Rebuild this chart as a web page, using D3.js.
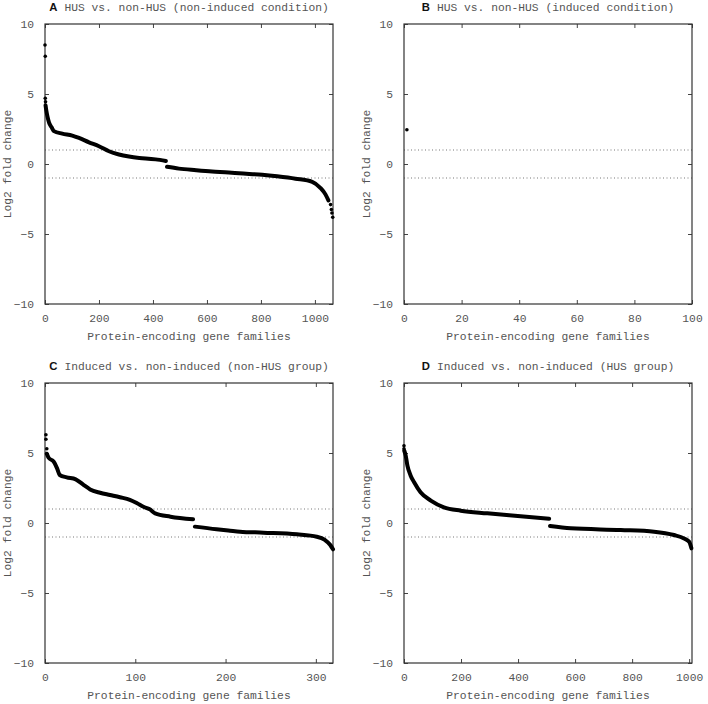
<html>
<head>
<meta charset="utf-8">
<script src="https://d3js.org/d3.v7.min.js"></script>
<style>
body { margin: 0; background: #fff; }
text { font-family: "Liberation Mono", "DejaVu Sans Mono", monospace; fill: #555; }
</style>
</head>
<body>
<svg id="chart" width="708" height="704"></svg>
<script>
// ---- data (index in sorted list, log2 fold change) ----
// panel A: HUS vs non-HUS, non-induced
var aPosIdx = [2, 5, 9, 15, 25, 33, 64, 101, 126, 163, 200, 237, 274, 311, 342, 373, 410, 448]
var aPosVal = [4.2, 3.8, 3.4, 2.95, 2.6, 2.35, 2.17, 2.03, 1.86, 1.55, 1.27, 0.91, 0.68, 0.53, 0.44, 0.4, 0.33, 0.22]
var aNegIdx = [452, 496, 560, 619, 681, 719, 805, 860, 928, 990, 1020, 1039, 1050]
var aNegVal = [-0.2, -0.33, -0.44, -0.53, -0.6, -0.66, -0.77, -0.88, -1.05, -1.27, -1.7, -2.17, -2.6]
var aDotIdx = [0, 1, 1, 2, 1058, 1061, 1063, 1066]
var aDotVal = [8.5, 7.7, 4.7, 4.45, -2.9, -3.25, -3.5, -3.8]

// panel B: HUS vs non-HUS, induced (single family)
var bDotIdx = [1]
var bDotVal = [2.45]

// panel C: induced vs non-induced, non-HUS group
var cPosIdx = [2, 4, 9.6, 12, 13.4, 16.3, 24, 34, 43, 50, 61, 72, 83, 94, 102, 109, 116, 122, 139, 164]
var cPosVal = [4.95, 4.66, 4.38, 4.1, 3.9, 3.43, 3.26, 3.12, 2.71, 2.4, 2.16, 2.0, 1.84, 1.66, 1.41, 1.16, 0.98, 0.69, 0.45, 0.26]
var cNegIdx = [166, 190, 205, 216, 242, 279, 301, 310, 316, 319]
var cNegVal = [-0.26, -0.45, -0.55, -0.62, -0.69, -0.81, -0.98, -1.21, -1.57, -1.88]
var cDotIdx = [1, 1, 2]
var cDotVal = [6.3, 5.98, 5.3]

// panel D: induced vs non-induced, HUS group
var dPosIdx = [1, 6, 12, 23, 35, 58, 94, 140, 199, 292, 409, 509]
var dPosVal = [5.16, 4.81, 4.1, 3.4, 2.93, 2.2, 1.6, 1.12, 0.88, 0.69, 0.48, 0.3]
var dNegIdx = [512, 585, 760, 877, 947, 982, 1000, 1008]
var dNegVal = [-0.21, -0.38, -0.5, -0.62, -0.86, -1.1, -1.34, -1.81]
var dDotIdx = [0, 0]
var dDotVal = [5.52, 5.3]

var panelLetters = ["A", "B", "C", "D"]
var panelTitles = ["HUS vs. non-HUS (non-induced condition)", "HUS vs. non-HUS (induced condition)",
                   "Induced vs. non-induced (non-HUS group)", "Induced vs. non-induced (HUS group)"]
var xMax = [1067, 100, 319, 1010]
var xTicks = [[0, 200, 400, 600, 800, 1000], [0, 20, 40, 60, 80, 100], [0, 100, 200, 300], [0, 200, 400, 600, 800, 1000]]
var yTicks = [-10, -5, 0, 5, 10]
var cutoffs = [1, -1]
var xLabel = "Protein-encoding gene families"
var yLabel = "Log2 fold change"

function zip(ix, v) { return ix.map(function(d, i) { return {x: d, y: v[i]} }) }

var panels = [
  {left: 45, top: 24, lines: [zip(aPosIdx, aPosVal), zip(aNegIdx, aNegVal)], dots: zip(aDotIdx, aDotVal)},
  {left: 404, top: 24, lines: [], dots: zip(bDotIdx, bDotVal)},
  {left: 45, top: 383, lines: [zip(cPosIdx, cPosVal), zip(cNegIdx, cNegVal)], dots: zip(cDotIdx, cDotVal)},
  {left: 404, top: 383, lines: [zip(dPosIdx, dPosVal), zip(dNegIdx, dNegVal)], dots: zip(dDotIdx, dDotVal)}
]
var W = 288, H = 280

var svg = d3.select("#chart")

panels.forEach(function(p, k) {
  var g = svg.append("g").attr("transform", "translate(" + p.left + "," + p.top + ")")
  var x = d3.scaleLinear().domain([0, xMax[k]]).range([0, W])
  var y = d3.scaleLinear().domain([-10, 10]).range([H, 0])

  // cutoff lines
  g.selectAll(".cut").data(cutoffs).enter().append("line")
    .attr("x1", 0).attr("x2", W)
    .attr("y1", function(d) { return y(d) }).attr("y2", function(d) { return y(d) })
    .style("stroke", "#777").style("stroke-width", 1).style("stroke-dasharray", "1,2.5")

  // axes, ticks pointing inward, mirrored
  var axB = g.append("g").attr("transform", "translate(0," + H + ")")
    .call(d3.axisBottom(x).tickValues(xTicks[k]).tickFormat(d3.format("d")).tickSizeInner(-4).tickSizeOuter(0).tickPadding(10))
  var axT = g.append("g").call(d3.axisTop(x).tickValues(xTicks[k]).tickSizeInner(-4).tickSizeOuter(0).tickFormat(""))
  var axL = g.append("g").call(d3.axisLeft(y).tickValues(yTicks).tickSizeInner(-4).tickSizeOuter(0).tickPadding(11))
  var axR = g.append("g").attr("transform", "translate(" + W + ",0)")
    .call(d3.axisRight(y).tickValues(yTicks).tickSizeInner(-4).tickSizeOuter(0).tickFormat(""))
  ;[axB, axT, axL, axR].forEach(function(a) {
    a.select(".domain").remove()
    a.selectAll("line").style("stroke", "#444")
    a.selectAll("text").style("font-family", "Liberation Mono, monospace").style("font-size", "11.3px").style("fill", "#555")
  })
  g.append("rect").attr("width", W).attr("height", H)
    .style("fill", "none").style("stroke", "#333").style("stroke-width", 1.2)

  // sorted fold changes
  var line = d3.line().x(function(d) { return x(d.x) }).y(function(d) { return y(d.y) }).curve(d3.curveMonotoneX)
  g.selectAll(".run").data(p.lines).enter().append("path")
    .attr("d", line)
    .style("fill", "none").style("stroke", "#000").style("stroke-width", 4).style("stroke-linecap", "round")
  g.selectAll(".dot").data(p.dots).enter().append("circle")
    .attr("cx", function(d) { return x(d.x) }).attr("cy", function(d) { return y(d.y) })
    .attr("r", 1.8).style("fill", "#000")

  // titles
  var t = g.append("text").attr("x", W / 2).attr("y", -13).attr("text-anchor", "middle")
    .style("font-size", "11.3px")
  t.append("tspan").text(panelLetters[k])
    .style("font-family", "Liberation Sans, Arial, sans-serif").style("font-weight", "bold").style("fill", "#111")
  t.append("tspan").attr("dx", 7).text(panelTitles[k]).style("fill", "#555")

  g.append("text").attr("x", W / 2).attr("y", H + 36).attr("text-anchor", "middle")
    .style("font-size", "11.3px").text(xLabel)
  g.append("text").attr("transform", "translate(-34," + (H / 2) + ") rotate(-90)")
    .attr("text-anchor", "middle").style("font-size", "11.3px").text(yLabel)
})
</script>
</body>
</html>
